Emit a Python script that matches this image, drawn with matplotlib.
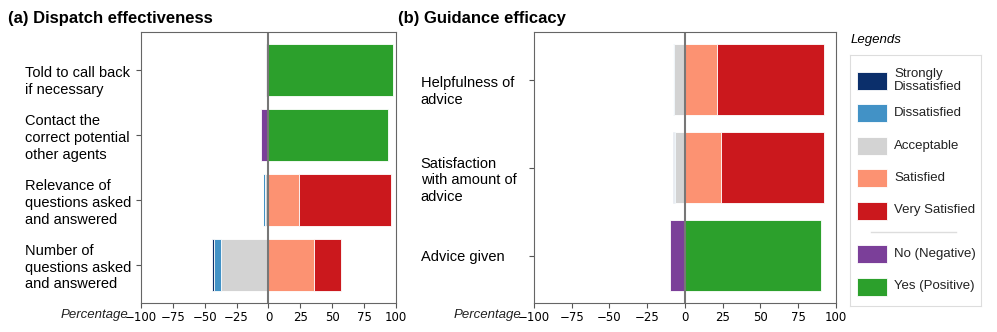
import numpy as np
import matplotlib.pyplot as plt
import matplotlib.transforms as mtrans
from matplotlib.patches import Rectangle

plt.rcParams['font.family'] = ['Liberation Sans', 'DejaVu Sans']

# Colours for each response level
c_sd = '#0b2f6b'
c_d = '#4292c6'
c_a = '#d3d3d3'
c_s = '#fc9272'
c_vs = '#cb181d'
c_no = '#7b3f99'
c_yes = '#2ca02c'

# (a) Dispatch effectiveness, bottom to top
a_labels = ['Number of\nquestions asked\nand answered',
            'Relevance of\nquestions asked\nand answered',
            'Contact the\ncorrect potential\nother agents',
            'Told to call back\nif necessary']
a_sd = [1, 0, 0, 0]
a_d = [6, 1, 0, 0]
a_a = [37, 3, 0, 0]
a_s = [36, 24, 0, 0]
a_vs = [21, 72, 0, 0]
a_no = [0, 0, 6, 2]
a_yes = [0, 0, 94, 98]

# (b) Guidance efficacy, bottom to top
b_labels = ['Advice given',
            'Satisfaction\nwith amount of\nadvice',
            'Helpfulness of\nadvice']
b_sd = [0, 1, 0]
b_d = [0, 0.7, 0.5]
b_a = [0, 6.3, 7.5]
b_s = [0, 24, 21]
b_vs = [0, 68, 71]
b_no = [10, 0, 0]
b_yes = [90, 0, 0]

xticks = [-100, -75, -50, -25, 0, 25, 50, 75, 100]

legend_names = ['Strongly\nDissatisfied', 'Dissatisfied', 'Acceptable',
                'Satisfied', 'Very Satisfied', 'No (Negative)',
                'Yes (Positive)']
legend_cols = [c_sd, c_d, c_a, c_s, c_vs, c_no, c_yes]


def diverging(ax, labels, sd, d, a, s, vs, no, yes, pad, shifts):
    y = np.arange(len(labels))
    sd, d, a, s, vs, no, yes = map(np.array, (sd, d, a, s, vs, no, yes))
    kw = dict(height=0.8, edgecolor='white', linewidth=0.6)
    # negative side
    ax.barh(y, -a, color=c_a, **kw)
    ax.barh(y, -d, left=-a, color=c_d, **kw)
    ax.barh(y, -sd, left=-a - d, color=c_sd, **kw)
    ax.barh(y, -no, color=c_no, **kw)
    # positive side
    ax.barh(y, s, color=c_s, **kw)
    ax.barh(y, vs, left=s, color=c_vs, **kw)
    ax.barh(y, yes, color=c_yes, **kw)
    ax.axvline(0, color='#777777', lw=1.5)
    ax.set_xlim(-100, 100)
    ax.set_xticks(xticks)
    ax.set_xticklabels([f'\u2212{-t}' if t < 0 else str(t) for t in xticks],
                       family='DejaVu Sans', fontsize=8.5)
    ax.set_yticks(y)
    ax.set_yticklabels(labels, ha='left', fontsize=10.5, linespacing=1.25)
    ax.tick_params(axis='y', pad=pad, color='#555555')
    ax.tick_params(axis='x', color='#555555', pad=2)
    # nudge some labels down a little, like the original
    for lab, sh in zip(ax.get_yticklabels(), shifts):
        off = mtrans.ScaledTranslation(0, -sh / 100, fig.dpi_scale_trans)
        lab.set_transform(lab.get_transform() + off)
    for sp in ax.spines.values():
        sp.set_color('#666666')
    off = mtrans.ScaledTranslation(-0.13, -0.06, fig.dpi_scale_trans)
    ax.text(0, 0, 'Percentage', transform=ax.transAxes + off, ha='right',
            va='top', style='italic', fontsize=9.5, color='#222222')


fig = plt.figure(figsize=(9.97, 3.32), dpi=100)
ax1 = fig.add_axes([0.1414, 0.0873, 0.2558, 0.816])
ax2 = fig.add_axes([0.5356, 0.0873, 0.3029, 0.816])

diverging(ax1, a_labels, a_sd, a_d, a_a, a_s, a_vs, a_no, a_yes, 80,
          [0, 0, 0, 8])
diverging(ax2, b_labels, b_sd, b_d, b_a, b_s, b_vs, b_no, b_yes, 78,
          [0, 10, 9])

fig.text(0.008, 0.93, '(a) Dispatch effectiveness', fontsize=12,
         fontweight='bold')
fig.text(0.399, 0.93, '(b) Guidance efficacy', fontsize=12,
         fontweight='bold')

# Legend box drawn in its own axes (pixel units, y downward)
lax = fig.add_axes([850 / 997, 1 - 306 / 332, 131 / 997, 251 / 332])
lax.set_xlim(0, 131)
lax.set_ylim(251, 0)
lax.set_xticks([])
lax.set_yticks([])
for sp in lax.spines.values():
    sp.set_color('#dddddd')
yc = 25.5
for i, (n, c) in enumerate(zip(legend_names, legend_cols)):
    if i == 5:
        lax.plot([21, 106], [yc - 11, yc - 11], color='#dddddd', lw=1)
        yc += 11
    lax.add_patch(Rectangle((7, yc - 9), 30, 18, facecolor=c,
                            edgecolor='white', lw=0.6))
    lax.text(44, yc, n, va='center', ha='left', fontsize=9.5,
             linespacing=1.05, color='#222222')
    yc += 32.5
fig.text(0.853, 0.87, 'Legends', style='italic', fontsize=9.5)

fig.savefig('out.png', dpi=100)
